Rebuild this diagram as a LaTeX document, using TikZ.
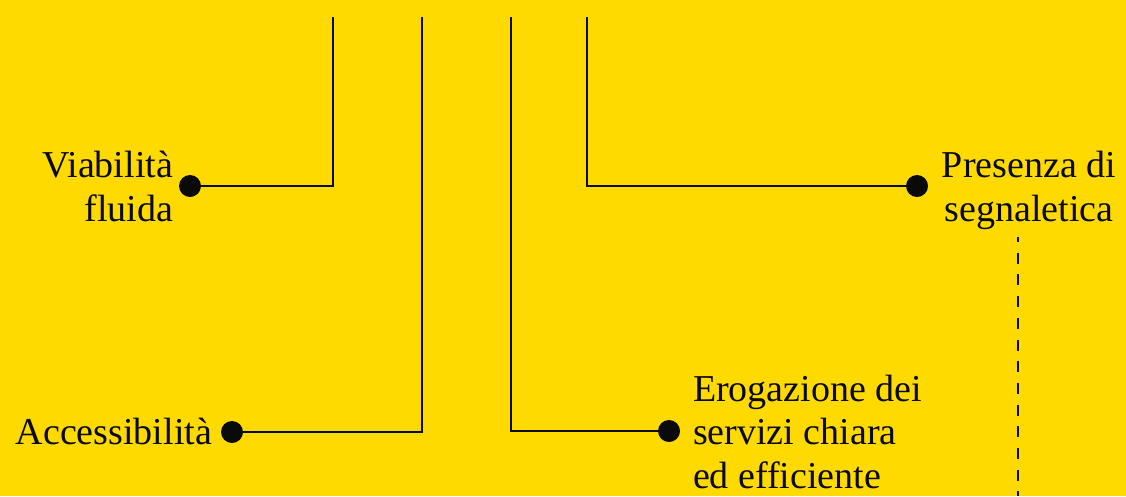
\documentclass[tikz,border=0pt]{standalone}
\usepackage{fontspec}
\setmainfont{Liberation Serif}
\definecolor{bgyellow}{RGB}{255,218,0}
\definecolor{ink}{RGB}{10,10,10}
\begin{document}
\begin{tikzpicture}[x=1pt,y=-1pt,
  dot/.style={circle,fill=ink,draw=none,minimum size=22pt,inner sep=0pt},
  link/.style={draw=ink,line width=2.6pt},
  dashlink/.style={draw=ink,line width=2.6pt,dash pattern=on 11pt off 10.7pt,dash phase=6pt},
  label/.style={font=\fontsize{38}{44}\selectfont,text=ink,inner sep=0pt,outer sep=0pt}]
\fill[bgyellow] (0,0) rectangle (1126,496);
\useasboundingbox (0,0) rectangle (1126,496);
% free top ends
\coordinate (t1) at (333,17);
\coordinate (t2) at (422,17);
\coordinate (t3) at (511,17);
\coordinate (t4) at (587,17);
% dots
\node[dot] (d1) at (190,186) {};
\node[dot] (d2) at (232,432) {};
\node[dot] (d3) at (669,431) {};
\node[dot] (d4) at (917,186) {};
% labels (base anchor = baseline of last line)
\node[label,align=right,anchor=base east] (l1) at (173,221) {Viabilità\\fluida};
\node[label,anchor=base east] (l2) at (212,444) {Accessibilità};
\node[label,align=left,anchor=base west,font=\fontsize{38}{43.5}\selectfont] (l3) at (693,488) {Erogazione dei\\servizi chiara\\ed efficiente};
\node[label,align=center,anchor=base] (l4) at (1029,221) {Presenza di\\segnaletica};
% connectors
\draw[link] (t1) |- (d1);
\draw[link] (t2) |- (d2);
\draw[link] (t3) |- (d3);
\draw[link] (t4) |- (d4);
\coordinate (s1) at (1018,237);
\coordinate (s2) at (1018,496);
\draw[dashlink] (s1) -- (s2);
\end{tikzpicture}
\end{document}
